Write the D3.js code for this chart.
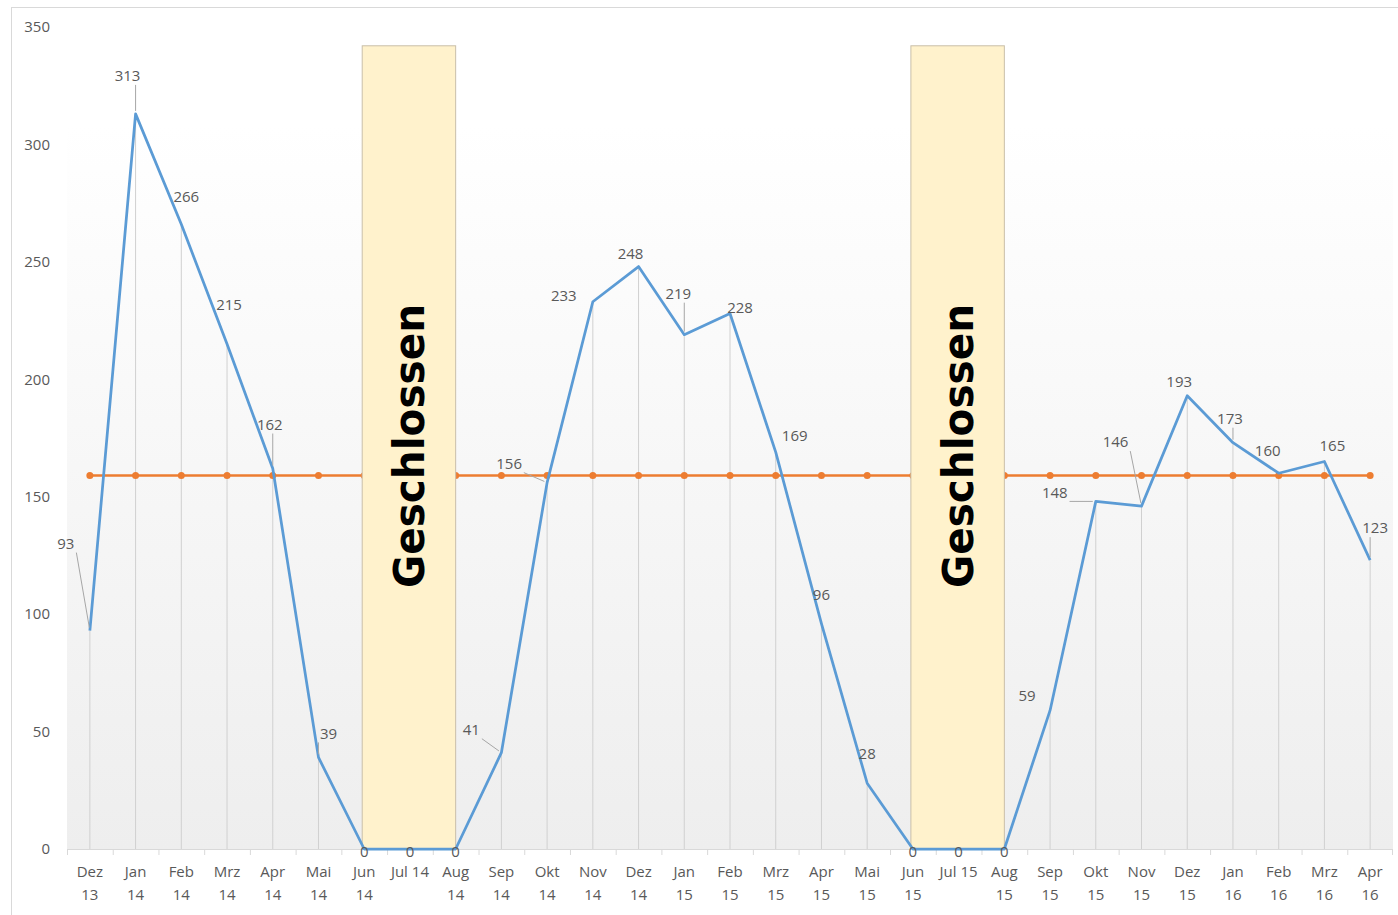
<!DOCTYPE html>
<html>
<head>
<meta charset="utf-8">
<script src="https://cdn.jsdelivr.net/npm/d3@7"></script>
<style>
  body { margin: 0; background: #fff; }
  text { font-family: "Open Sans", "Noto Sans", sans-serif; }
</style>
</head>
<body>
<div id="chart"></div>
<script>
// data
var months = ["Dez 13","Jan 14","Feb 14","Mrz 14","Apr 14","Mai 14","Jun 14","Jul 14","Aug 14",
              "Sep 14","Okt 14","Nov 14","Dez 14","Jan 15","Feb 15","Mrz 15","Apr 15","Mai 15",
              "Jun 15","Jul 15","Aug 15","Sep 15","Okt 15","Nov 15","Dez 15","Jan 16","Feb 16",
              "Mrz 16","Apr 16"];
var visitors = [93,313,266,215,162,39,0,0,0,41,156,233,248,219,228,169,96,28,0,0,0,59,148,146,193,173,160,165,123];
var average = 159;
var closedRanges = [["Jun 14","Aug 14"],["Jun 15","Aug 15"]];
var closedTop = 342;
var closedText = "Geschlossen";
var yTicks = [0,50,100,150,200,250,300,350];

// label placement (text centre relative to the point) and which labels get a leader line
var labelOffset = [[-24,-87],[-8,-38],[5,-28],[2,-39],[-3,-44],[10,-24],[0,3],[0,3],[0,3],
                   [-30,-23],[-38,-19],[-29,-6],[-8,-13],[-6,-41],[10,-6],[19,-16],[0,-29],[0,-29],
                   [0,3],[0,3],[0,3],[-23,-15],[-41,-9],[-26,-64],[-8,-14],[-3,-24],[-11,-22],
                   [8,-16],[5,-32]];
var leaders = [0,1,4,5,9,10,13,22,23,25,28];

var W = 1398, H = 915;
var margin = { top: 27, right: 5, bottom: 66, left: 67 };

var svg = d3.select("#chart").append("svg")
    .attr("width", W)
    .attr("height", H);

var x = d3.scaleBand()
    .domain(months)
    .range([margin.left, W - margin.right])
    .padding(0);

var cx = function (m) { return x(m) + x.bandwidth() / 2; };

var y = d3.scaleLinear()
    .domain([0, 350])
    .range([H - margin.bottom, margin.top]);

var defs = svg.append("defs");
var grad = defs.append("linearGradient")
    .attr("id", "bg")
    .attr("x1", 0).attr("y1", 0).attr("x2", 0).attr("y2", 1);
grad.append("stop").attr("offset", "0%").attr("stop-color", "#ffffff");
grad.append("stop").attr("offset", "12%").attr("stop-color", "#ffffff");
grad.append("stop").attr("offset", "100%").attr("stop-color", "#eeeeee");

// outer chart border
svg.append("rect")
    .attr("x", 11.5).attr("y", 7.5)
    .attr("width", W).attr("height", H)
    .attr("fill", "none")
    .attr("stroke", "#d9d9d9");

// plot area
svg.append("rect")
    .attr("x", margin.left)
    .attr("y", y(350))
    .attr("width", W - margin.right - margin.left)
    .attr("height", y(0) - y(350))
    .attr("fill", "url(#bg)");

// y axis labels
svg.append("g")
    .selectAll("text")
    .data(yTicks)
  .enter().append("text")
    .attr("x", 50)
    .attr("y", function (d) { return y(d); })
    .attr("dy", "0.35em")
    .attr("text-anchor", "end")
    .attr("fill", "#595959")
    .style("font-size", "15px")
    .text(function (d) { return d; });

// x axis line + ticks between categories
var xAxis = svg.append("g");
xAxis.append("line")
    .attr("x1", margin.left).attr("x2", W - margin.right)
    .attr("y1", y(0) + 0.5).attr("y2", y(0) + 0.5)
    .attr("stroke", "#d9d9d9");
xAxis.selectAll(".tick")
    .data(months.concat(["end"]))
  .enter().append("line")
    .attr("class", "tick")
    .attr("x1", function (d, i) { return i < months.length ? x(d) + 0.5 : W - margin.right - 0.5; })
    .attr("x2", function (d, i) { return i < months.length ? x(d) + 0.5 : W - margin.right - 0.5; })
    .attr("y1", y(0)).attr("y2", y(0) + 6)
    .attr("stroke", "#d9d9d9");

// labels wrap onto two lines, except the short "Jul" ones which fit on one
var lab = xAxis.selectAll(".lab")
    .data(months)
  .enter().append("text")
    .attr("class", "lab")
    .attr("text-anchor", "middle")
    .attr("fill", "#595959")
    .style("font-size", "15px");
lab.each(function (d) {
    var t = d3.select(this);
    var parts = d.indexOf("Jul") === 0 ? [d] : d.split(" ");
    parts.forEach(function (p, k) {
        t.append("tspan")
            .attr("x", cx(d))
            .attr("y", y(0) + 28 + k * 23)
            .text(p);
    });
});

// drop lines
svg.append("g")
    .selectAll("line")
    .data(visitors)
  .enter().append("line")
    .attr("x1", function (d, i) { return cx(months[i]); })
    .attr("x2", function (d, i) { return cx(months[i]); })
    .attr("y1", function (d) { return y(d); })
    .attr("y2", y(0))
    .attr("stroke", "#d0d0d0")
    .attr("stroke-width", 1);

// average line
var avgLine = d3.line()
    .x(function (d) { return cx(d); })
    .y(function () { return y(average); });
svg.append("path")
    .datum(months)
    .attr("d", avgLine)
    .attr("fill", "none")
    .attr("stroke", "#ed7d31")
    .attr("stroke-width", 2.5);
svg.append("g")
    .selectAll("circle")
    .data(months)
  .enter().append("circle")
    .attr("cx", function (d) { return cx(d); })
    .attr("cy", y(average))
    .attr("r", 3.5)
    .attr("fill", "#ed7d31");

// closed boxes
var box = svg.append("g")
    .selectAll("g")
    .data(closedRanges)
  .enter().append("g");
box.append("rect")
    .attr("x", function (d) { return cx(d[0]) - 2; })
    .attr("y", y(closedTop))
    .attr("width", function (d) { return cx(d[1]) - cx(d[0]) + 2; })
    .attr("height", y(0) - y(closedTop))
    .attr("fill", "#fff2cc")
    .attr("stroke", "#c9bfa9")
    .attr("stroke-width", 1);
box.append("text")
    .attr("transform", function (d) {
        return "translate(" + ((cx(d[0]) + cx(d[1])) / 2 - 1) + "," + 446 + ") rotate(-90)";
    })
    .attr("text-anchor", "middle")
    .attr("dy", "0.36em")
    .attr("fill", "#000")
    .attr("textLength", 284)
    .attr("lengthAdjust", "spacingAndGlyphs")
    .style("font-family", "'DejaVu Sans', sans-serif")
    .style("font-size", "42px")
    .style("font-weight", "bold")
    .text(closedText);

// visitor line
var line = d3.line()
    .x(function (d, i) { return cx(months[i]); })
    .y(function (d) { return y(d); });
svg.append("path")
    .datum(visitors)
    .attr("d", line)
    .attr("fill", "none")
    .attr("stroke", "#5b9bd5")
    .attr("stroke-width", 2.75)
    .attr("stroke-linejoin", "round");

// data labels with leader lines
var labels = svg.append("g");
visitors.forEach(function (v, i) {
    var px = cx(months[i]), py = y(v);
    var tx = px + labelOffset[i][0], ty = py + labelOffset[i][1];
    var w = String(v).length * 8.5 / 2 + 2, h = 9;
    var sx = Math.max(tx - w, Math.min(tx + w, px));
    var sy = Math.max(ty - h, Math.min(ty + h, py));
    var dist = Math.hypot(px - sx, py - sy);
    if (leaders.indexOf(i) >= 0 && dist > 8) {
        var k = (dist - 3) / dist;
        labels.append("line")
            .attr("x1", sx).attr("y1", sy)
            .attr("x2", sx + (px - sx) * k).attr("y2", sy + (py - sy) * k)
            .attr("stroke", "#a6a6a6")
            .attr("stroke-width", 1);
    }
    labels.append("text")
        .attr("x", tx)
        .attr("y", ty)
        .attr("dy", "0.35em")
        .attr("text-anchor", "middle")
        .attr("fill", "#595959")
        .style("font-size", "15px")
        .text(v);
});
</script>
</body>
</html>
